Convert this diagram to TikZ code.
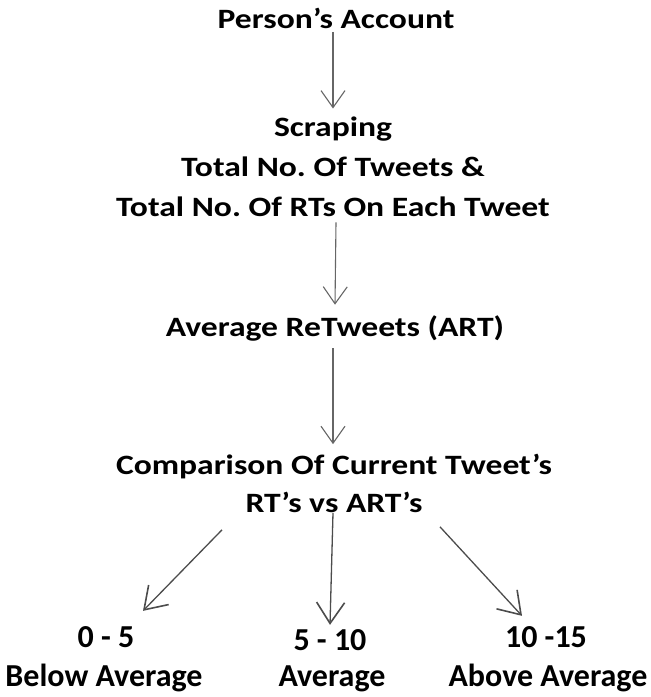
\documentclass[tikz,border=0pt]{standalone}
\usepackage{fontspec}
\setmainfont{Carlito}
\newfontfamily\widefont{Carlito}[FakeStretch=1.2]
\usetikzlibrary{arrows.meta}
\frenchspacing

\begin{document}
\begin{tikzpicture}[x=1pt,y=-1pt,line width=1.1pt,
  lbl/.style={anchor=center,inner sep=1pt,align=center,font=\widefont\fontsize{28}{40}\selectfont\bfseries},
  res/.style={anchor=center,inner sep=1pt,font=\fontsize{32}{38}\selectfont\bfseries},
  flow/.style={draw=gray!80!black,-{Straight Barb[length=17pt,width=24pt,line width=1.1pt]}},
  split/.style={draw=gray!60!black,line width=1.3pt,-{Straight Barb[length=21pt,width=28pt,line width=1.6pt]}}]
\path[use as bounding box] (0,0) rectangle (651,697);
% main column
\node[lbl] (acct) at (336,18) {Person’s Account};
\node[lbl] (scrap) at (333,167) {Scraping\\Total No. Of Tweets \&\\Total No. Of RTs On Each Tweet};
\node[lbl] (art) at (335,328) {Average ReTweets (ART)};
\node[lbl,font=\widefont\fontsize{28}{38}\selectfont\bfseries] (cmp) at (334,483) {Comparison Of Current Tweet’s\\RT’s vs ART’s};
% three outcomes
\node[res] (low) at (106,637) {0 - 5};
\node[res] (lowtxt) at (104,678) {Below Average};
\node[res] (mid) at (330,640) {5 - 10};
\node[res] (midtxt) at (332,679) {Average};
\node[res] (high) at (546,637) {10 -15};
\node[res] (hightxt) at (548,678) {Above Average};
% arrows
\draw[flow] ([xshift=-3pt,yshift=-2pt]acct.south) -- ([yshift=7pt]scrap.north);
\draw[flow] ([xshift=3pt,yshift=-4pt]scrap.south) -- ([yshift=9pt]art.north);
\draw[flow] ([xshift=-2pt,yshift=-6pt]art.south) -- ([xshift=-1pt,yshift=8pt]cmp.north);
\draw[split] ([xshift=-112pt,yshift=-16pt]cmp.south) -- ([xshift=37pt,yshift=14pt]low.north);
\draw[split] ([xshift=-1pt,yshift=1pt]cmp.south) -- ([yshift=3pt]mid.north);
\draw[split] ([xshift=106pt,yshift=-13pt]cmp.south) -- ([xshift=-24pt,yshift=9pt]high.north);
\end{tikzpicture}
\end{document}
